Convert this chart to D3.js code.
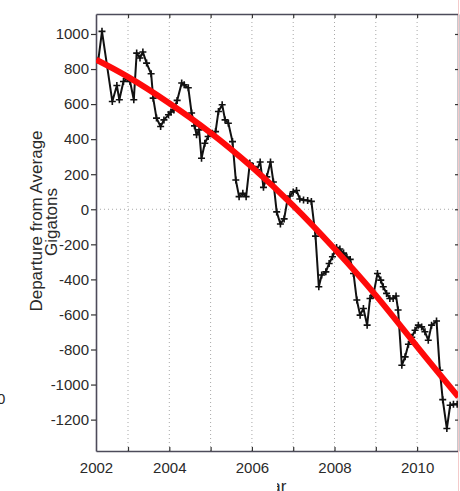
<!DOCTYPE html>
<html>
<head>
<meta charset="utf-8">
<script src="https://cdn.jsdelivr.net/npm/d3@7"></script>
<style>
  html, body { margin: 0; padding: 0; background: #fff; }
  svg { display: block; font-family: "Liberation Sans", Arial, sans-serif; }
</style>
</head>
<body>
<svg id="chart" width="460" height="491"></svg>
<script>
// monthly mass anomaly (decimal year, gigatons)
const years = [
  2002.28, 2002.37, 2002.62, 2002.73, 2002.79, 2002.89, 2002.98, 2003.05, 2003.14, 2003.21,
  2003.29, 2003.36, 2003.45, 2003.56, 2003.61, 2003.69, 2003.79, 2003.87, 2003.98, 2004.04,
  2004.11, 2004.19, 2004.30, 2004.36, 2004.46, 2004.54, 2004.61, 2004.66, 2004.72, 2004.78,
  2004.86, 2004.94, 2005.04, 2005.12, 2005.19, 2005.28, 2005.35, 2005.43, 2005.53, 2005.61,
  2005.69, 2005.78, 2005.86, 2005.95, 2006.03, 2006.12, 2006.20, 2006.28, 2006.36, 2006.45,
  2006.52, 2006.60, 2006.69, 2006.78, 2006.86, 2006.92, 2007.00, 2007.08, 2007.16, 2007.25,
  2007.35, 2007.44, 2007.54, 2007.62, 2007.69, 2007.79, 2007.87, 2007.95, 2008.05, 2008.13,
  2008.22, 2008.30, 2008.38, 2008.46, 2008.54, 2008.62, 2008.70, 2008.79, 2008.86, 2008.94,
  2009.04, 2009.12, 2009.18, 2009.26, 2009.34, 2009.42, 2009.49, 2009.54, 2009.63, 2009.71,
  2009.79, 2009.87, 2009.95, 2010.03, 2010.11, 2010.19, 2010.27, 2010.35, 2010.47, 2010.55,
  2010.62, 2010.72, 2010.80, 2010.88, 2010.97
];
const gigatons = [
   850, 1015,  615,  706,  625,  729,  748,  729,  625,  891,
   863,  897,  834,  773,  634,  520,  472,  510,  539,  555,
   567,  621,  720,  710,  693,  549,  476,  425,  453,  291,
   377,  415,  434,  443,  558,  596,  510,  491,  386,  167,
    72,   91,   72,  264,  244,  225,  270,  125,  185,  270,
   156,  -15,  -84,  -55,   53,   76,   99,  107,   59,   53,
    50,   45, -153, -442, -375, -357, -309, -271, -218, -227,
  -250, -273, -286, -366, -518, -604, -566, -661, -509, -490,
  -366, -404, -442, -480, -509, -509, -495, -575, -890, -842,
  -770, -730, -690, -661, -671, -699, -747, -661, -637, -918,
 -1086,-1251,-1118,-1113,-1113
];

// red trend curve, read at the year gridlines
const fitYears = [2002.23, 2003, 2004, 2005, 2006, 2007, 2008, 2009, 2010, 2011];
const fitValues = [853, 755, 605, 436, 241, 21, -225, -491, -783, -1070];

const yTicks = [-1200, -1000, -800, -600, -400, -200, 0, 200, 400, 600, 800, 1000];
const gridYears = [2003, 2004, 2005, 2006, 2007, 2008, 2009, 2010];
const xLabelYears = [2002.225, 2004, 2006, 2008, 2010];
const xLabels = ["2002", "2004", "2006", "2008", "2010"];

const svg = d3.select("#chart");
const margin = { top: 14, right: 2, bottom: 40, left: 96 },
  width = +svg.attr("width") - margin.left - margin.right,
  height = +svg.attr("height") - margin.top - margin.bottom;

const x = d3.scaleLinear().domain([2002.225, 2010.99]).range([0, width]);
const y = d3.scaleLinear().domain([-1379, 1114]).range([height, 0]);

const g = svg
  .append("g")
  .attr("transform", "translate(" + margin.left + "," + margin.top + ")");

svg.append("defs")
  .append("clipPath")
  .attr("id", "plot-clip")
  .append("rect")
  .attr("width", width)
  .attr("height", height);

// dotted grid: every year, plus the zero line
g.append("g")
  .selectAll("line")
  .data(gridYears)
  .join("line")
  .attr("x1", (d) => x(d))
  .attr("x2", (d) => x(d))
  .attr("y1", 0)
  .attr("y2", height)
  .attr("stroke", "#a8a8a8")
  .attr("stroke-width", 1)
  .attr("stroke-dasharray", "1,3");

g.append("line")
  .attr("x1", 0)
  .attr("x2", width)
  .attr("y1", y(0))
  .attr("y2", y(0))
  .attr("stroke", "#a8a8a8")
  .attr("stroke-dasharray", "1,3");

const styleAxis = (sel) => {
  sel.select(".domain").attr("stroke", "#4d4b5a").attr("stroke-width", 1.6);
  sel.selectAll(".tick line").attr("stroke", "#333").attr("stroke-width", 1.2);
  sel.selectAll(".tick text")
    .attr("fill", "#2a2a2a")
    .style("font-size", "15px");
};

// left axis with labels (plain hyphen minus, no thousands comma)
g.append("g")
  .call(
    d3.axisLeft(y)
      .tickValues(yTicks)
      .tickSize(5)
      .tickPadding(2)
      .tickSizeOuter(0)
      .tickFormat((d) => String(d))
  )
  .call(styleAxis);

// right edge, ticks only
g.append("g")
  .attr("transform", "translate(" + width + ",0)")
  .call(d3.axisLeft(y).tickValues(yTicks).tickSize(3).tickFormat("").tickSizeOuter(0))
  .call(styleAxis);

// top edge, ticks only
g.append("g")
  .call(d3.axisBottom(x).tickValues(gridYears).tickSize(4).tickFormat("").tickSizeOuter(0))
  .call(styleAxis);

// bottom edge: inner ticks at each year, labels every two years
g.append("g")
  .attr("transform", "translate(0," + height + ")")
  .call(d3.axisTop(x).tickValues(gridYears).tickSize(4).tickFormat("").tickSizeOuter(0))
  .call(styleAxis);

g.append("g")
  .attr("transform", "translate(0," + height + ")")
  .call(
    d3.axisBottom(x)
      .tickValues(xLabelYears)
      .tickSize(0)
      .tickPadding(11)
      .tickFormat((d, i) => xLabels[i])
  )
  .call(styleAxis)
  .select(".domain")
  .remove();

const plot = g.append("g").attr("clip-path", "url(#plot-clip)");

// data line + '+' markers
const series = years.map((yr, i) => ({ yr, v: gigatons[i] }));

plot.append("path")
  .datum(series)
  .attr("fill", "none")
  .attr("stroke", "#111")
  .attr("stroke-width", 2)
  .attr("stroke-linejoin", "round")
  .attr("d", d3.line().x((d) => x(d.yr)).y((d) => y(d.v)));

plot.append("g")
  .selectAll("path")
  .data(series)
  .join("path")
  .attr("transform", (d) => "translate(" + x(d.yr) + "," + y(d.v) + ")")
  .attr("d", "M-3.5,0H3.5M0,-3.5V3.5")
  .attr("stroke", "#111")
  .attr("stroke-width", 1.6);

// trend
const fit = fitYears.map((yr, i) => ({ yr, v: fitValues[i] }));

plot.append("path")
  .datum(fit)
  .attr("fill", "none")
  .attr("stroke", "#ff0a0a")
  .attr("stroke-width", 6)
  .attr("stroke-linecap", "butt")
  .attr("d", d3.line().curve(d3.curveNatural).x((d) => x(d.yr)).y((d) => y(d.v)));

// axis titles
svg.append("text")
  .attr("transform", "translate(42,221) rotate(-90)")
  .attr("text-anchor", "middle")
  .attr("fill", "#2a2a2a")
  .style("font-size", "17px")
  .text("Departure from Average");

svg.append("text")
  .attr("transform", "translate(57,222) rotate(-90)")
  .attr("text-anchor", "middle")
  .attr("fill", "#2a2a2a")
  .style("font-size", "17px")
  .text("Gigatons");

// x title is mostly hidden in the source crop
svg.select("defs")
  .append("clipPath")
  .attr("id", "xtitle-clip")
  .append("rect")
  .attr("x", 277)
  .attr("y", 470)
  .attr("width", 40)
  .attr("height", 21);

svg.append("text")
  .attr("clip-path", "url(#xtitle-clip)")
  .attr("x", 252)
  .attr("y", 492)
  .attr("fill", "#2a2a2a")
  .style("font-size", "17px")
  .text("Year");

// stray label from the neighbouring panel
svg.append("text")
  .attr("x", -3)
  .attr("y", 404)
  .attr("fill", "#2a2a2a")
  .style("font-size", "15px")
  .text("0");

// faint border at the right of the crop
svg.append("line")
  .attr("x1", 458.5)
  .attr("x2", 458.5)
  .attr("y1", 0)
  .attr("y2", 491)
  .attr("stroke", "#f4caca")
  .attr("stroke-width", 1);
</script>
</body>
</html>
